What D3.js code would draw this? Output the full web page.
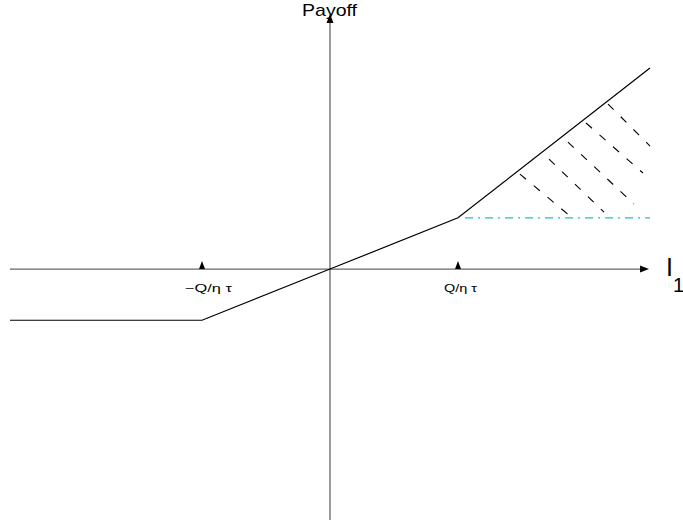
<!DOCTYPE html>
<html><head><meta charset="utf-8">
<script src="https://cdn.jsdelivr.net/npm/d3@7"></script>
<style>body{margin:0;background:#fff}svg{display:block}text{font-family:"Liberation Sans",Arial,sans-serif}</style>
</head><body><div id="c"></div>
<script>
// payoff curve breakpoints
const curveX = [-2.5, -1, 0, 1, 2.5];
const curveY = [-0.4, -0.4, 0, 0.4, 1.57];
// tick markers on the I1 axis
const tickValues = [-1, 1];
const tickLabels = ["\u2212Q/\u03b7 \u03c4", "Q/\u03b7 \u03c4"];
// hatch lines (start/end points)
const hatchX0 = [1.484, 1.711, 1.859, 2.0, 2.172];
const hatchY0 = [0.742, 0.859, 0.992, 1.141, 1.289];
const hatchX1 = [1.875, 2.141, 2.375, 2.445, 2.5];
const hatchY1 = [0.414, 0.445, 0.508, 0.75, 0.961];
// dash-dot reference level
const refX = [1.055, 2.5];
const refY = [0.4, 0.4];

const W = 683, H = 525;
const svg = d3.select("#c").append("svg").attr("width", W).attr("height", H);
const x = d3.scaleLinear().domain([-2.5, 2.5]).range([10, 650]);
const y = d3.scaleLinear().domain([-1.96, 2]).range([520, 13]);

const axisCol = "#666";
// horizontal axis
svg.append("line").attr("x1", x(-2.5)).attr("x2", x(2.43)).attr("y1", y(0)).attr("y2", y(0))
  .attr("stroke", axisCol).attr("stroke-width", 1.3);
svg.append("path").attr("d", `M${x(2.43)-1},${y(0)-3.5} L${x(2.43)+8},${y(0)} L${x(2.43)-1},${y(0)+3.5} Z`).attr("fill", "#000");
// vertical axis
svg.append("line").attr("x1", x(0)).attr("x2", x(0)).attr("y1", y(-1.96)).attr("y2", y(1.93))
  .attr("stroke", axisCol).attr("stroke-width", 1.3);
svg.append("path").attr("d", `M${x(0)-3.5},${y(1.93)+1} L${x(0)},${y(1.93)-8} L${x(0)+3.5},${y(1.93)+1} Z`).attr("fill", "#000");

// tick markers
const labOffset = [-17, -14];
const labLen = [47, 33];
tickValues.forEach((v, i) => {
  svg.append("path").attr("d", `M${x(v)-3},${y(0)} L${x(v)},${y(0)-8} L${x(v)+3},${y(0)} Z`).attr("fill", "#000");
  svg.append("text").attr("x", x(v) + labOffset[i]).attr("y", y(0) + 23)
    .attr("font-size", 11.5).attr("textLength", labLen[i]).attr("lengthAdjust", "spacingAndGlyphs")
    .text(tickLabels[i]);
});

// dash-dot line
svg.append("line").attr("x1", x(refX[0])).attr("x2", x(refX[1])).attr("y1", y(refY[0])).attr("y2", y(refY[1]))
  .attr("stroke", "#1fbfc4").attr("stroke-width", 1.2).attr("stroke-dasharray", "8,5,2,5");

// hatch
hatchX0.forEach((_, i) => {
  svg.append("line").attr("x1", x(hatchX0[i])).attr("y1", y(hatchY0[i]))
    .attr("x2", x(hatchX1[i])).attr("y2", y(hatchY1[i]))
    .attr("stroke", "#000").attr("stroke-width", 1.1).attr("stroke-dasharray", "8,10");
});

// payoff curve
const line = d3.line().x(d => x(d[0])).y(d => y(d[1]));
svg.append("path").datum(curveX.map((v, i) => [v, curveY[i]])).attr("d", line)
  .attr("fill", "none").attr("stroke", "#000").attr("stroke-width", 1.2);

// labels
svg.append("text").attr("x", 302).attr("y", 16).attr("font-size", 17)
  .attr("textLength", 55).attr("lengthAdjust", "spacingAndGlyphs").text("Payoff");
svg.append("text").attr("x", 666).attr("y", 276).attr("font-size", 25).text("I");
svg.append("text").attr("x", 673).attr("y", 292).attr("font-size", 20).text("1");
</script></body></html>
